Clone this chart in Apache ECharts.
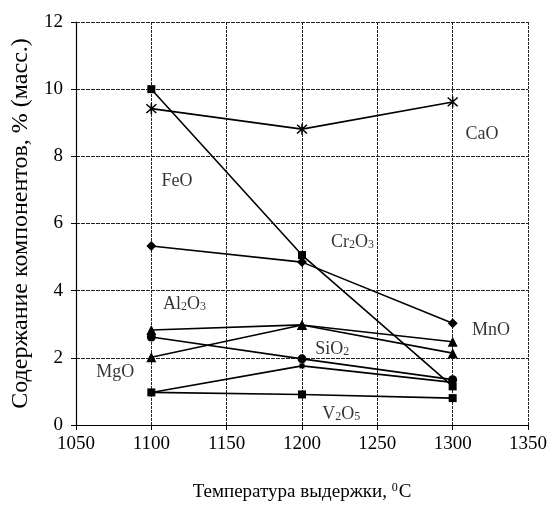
<!DOCTYPE html>
<html>
<head>
<meta charset="utf-8">
<script src="https://cdn.jsdelivr.net/npm/echarts@6/dist/echarts.min.js"></script>
<style>
  html, body { margin: 0; padding: 0; background: #fff; }
  #chart { width: 550px; height: 507px; }
</style>
</head>
<body>
<div id="chart"></div>
<script>
// Holding temperature, °C
const temperatures = [1100, 1200, 1300];

// Component content, % (mass) at each temperature
const caO   = [9.42, 8.81, 9.62];
const feO   = [10.0, 5.06, 1.15];
const cr2O3 = [5.33, 4.85, 3.03];
const mnO   = [2.83, 2.98, 2.48];
const mgO   = [2.02, 2.98, 2.14];
const al2O3 = [2.62, 1.97, 1.35];
const siO2  = [0.97, 1.76, 1.27];
const v2O5  = [0.97, 0.91, 0.80];

// Axis ticks
const xTicks = [1050, 1100, 1150, 1200, 1250, 1300, 1350];
const yTicks = [0, 2, 4, 6, 8, 10, 12];

// Component names placed inside the plot, anchored in data coordinates
const tagNames   = ['CaO', 'FeO', 'Cr2O3', 'Al2O3', 'MnO', 'SiO2', 'MgO', 'V2O5'];
const tagAnchorX = [1319.5, 1117, 1233.5, 1122, 1325.5, 1220, 1076, 1226];
const tagAnchorY = [8.72, 7.32, 5.5, 3.66, 2.89, 2.32, 1.64, 0.39];

const FONT = '"Liberation Serif", "Times New Roman", serif';

// Asterisk marker: a cross with a vertical stroke through it
const asterisk = 'path://M4.4 0L5.6 0L5.6 10L4.4 10Z' +
  'M0.58 1.42L1.42 0.58L9.42 8.58L8.58 9.42Z' +
  'M1.42 9.42L0.58 8.58L8.58 0.58L9.42 1.42Z';

function pairs(values) {
  return temperatures.map((t, i) => [t, values[i]]);
}

// Turn digits in a formula into subscript rich-text fragments
function formula(name) {
  return name.replace(/([A-Za-z]+)|(\d+)/g, (m, letters, digits) =>
    letters ? '{n|' + letters + '}' : '{s|' + digits + '}');
}

function lineSeries(name, values, symbol, size) {
  return {
    name: name,
    type: 'line',
    data: pairs(values),
    symbol: symbol,
    symbolSize: size,
    showAllSymbol: true,
    lineStyle: { color: '#000', width: 1.6 },
    itemStyle: { color: '#000', borderWidth: 0 },
    z: 3,
    animation: false
  };
}

const series = [
  lineSeries('CaO',   caO,   asterisk,   11),
  lineSeries('FeO',   feO,   'rect',     8),
  lineSeries('Cr2O3', cr2O3, 'diamond',  10),
  lineSeries('MnO',   mnO,   'triangle', 10),
  lineSeries('MgO',   mgO,   'triangle', 10),
  lineSeries('Al2O3', al2O3, 'circle',   9),
  lineSeries('SiO2',  siO2,  'rect',     5),
  lineSeries('V2O5',  v2O5,  'rect',     8),
  {
    name: 'tags',
    type: 'scatter',
    symbolSize: 0,
    silent: true,
    animation: false,
    z: 4,
    data: tagNames.map((n, i) => ({ value: [tagAnchorX[i], tagAnchorY[i]], name: n })),
    label: {
      show: true,
      position: 'inside',
      formatter: p => formula(p.name),
      rich: {
        n: { fontFamily: FONT, fontSize: 18, color: '#000', lineHeight: 22, verticalAlign: 'bottom' },
        s: { fontFamily: FONT, fontSize: 12, color: '#000', lineHeight: 22, verticalAlign: 'bottom' }
      }
    }
  }
];

const chart = echarts.init(document.getElementById('chart'), null, { renderer: 'canvas' });

chart.setOption({
  backgroundColor: '#fff',
  animation: false,
  grid: { left: 76, right: 21, top: 22, bottom: 82, containLabel: false },
  xAxis: {
    type: 'value',
    min: xTicks[0],
    max: xTicks[xTicks.length - 1],
    interval: xTicks[1] - xTicks[0],
    name: 'Температура выдержки, {sup|0}C',
    nameLocation: 'middle',
    nameGap: 57,
    nameTextStyle: {
      fontFamily: FONT, fontSize: 19, color: '#000',
      rich: {
        sup: { fontFamily: FONT, fontSize: 12, color: '#000', verticalAlign: 'top', padding: [0, 1, 8, 0] }
      }
    },
    axisLine: { show: true, lineStyle: { color: '#000', width: 1.2 } },
    axisTick: { show: true, inside: false, length: 5, lineStyle: { color: '#000' } },
    axisLabel: { fontFamily: FONT, fontSize: 19, color: '#000', margin: 10, formatter: v => String(v) },
    splitLine: { show: true, lineStyle: { color: '#222', width: 1, type: [3, 1] } }
  },
  yAxis: {
    type: 'value',
    min: yTicks[0],
    max: yTicks[yTicks.length - 1],
    interval: yTicks[1] - yTicks[0],
    name: 'Содержание компонентов, % (масс.)',
    nameLocation: 'middle',
    nameRotate: 90,
    nameGap: 41,
    nameTextStyle: { fontFamily: FONT, fontSize: 24, color: '#000' },
    axisLine: { show: true, lineStyle: { color: '#000', width: 1.2 } },
    axisTick: { show: true, inside: false, length: 5, lineStyle: { color: '#000' } },
    axisLabel: { fontFamily: FONT, fontSize: 19, color: '#000', margin: 13, formatter: v => String(v) },
    splitLine: { show: true, lineStyle: { color: '#222', width: 1, type: [4, 1] } }
  },
  series: series
});
</script>
</body>
</html>
